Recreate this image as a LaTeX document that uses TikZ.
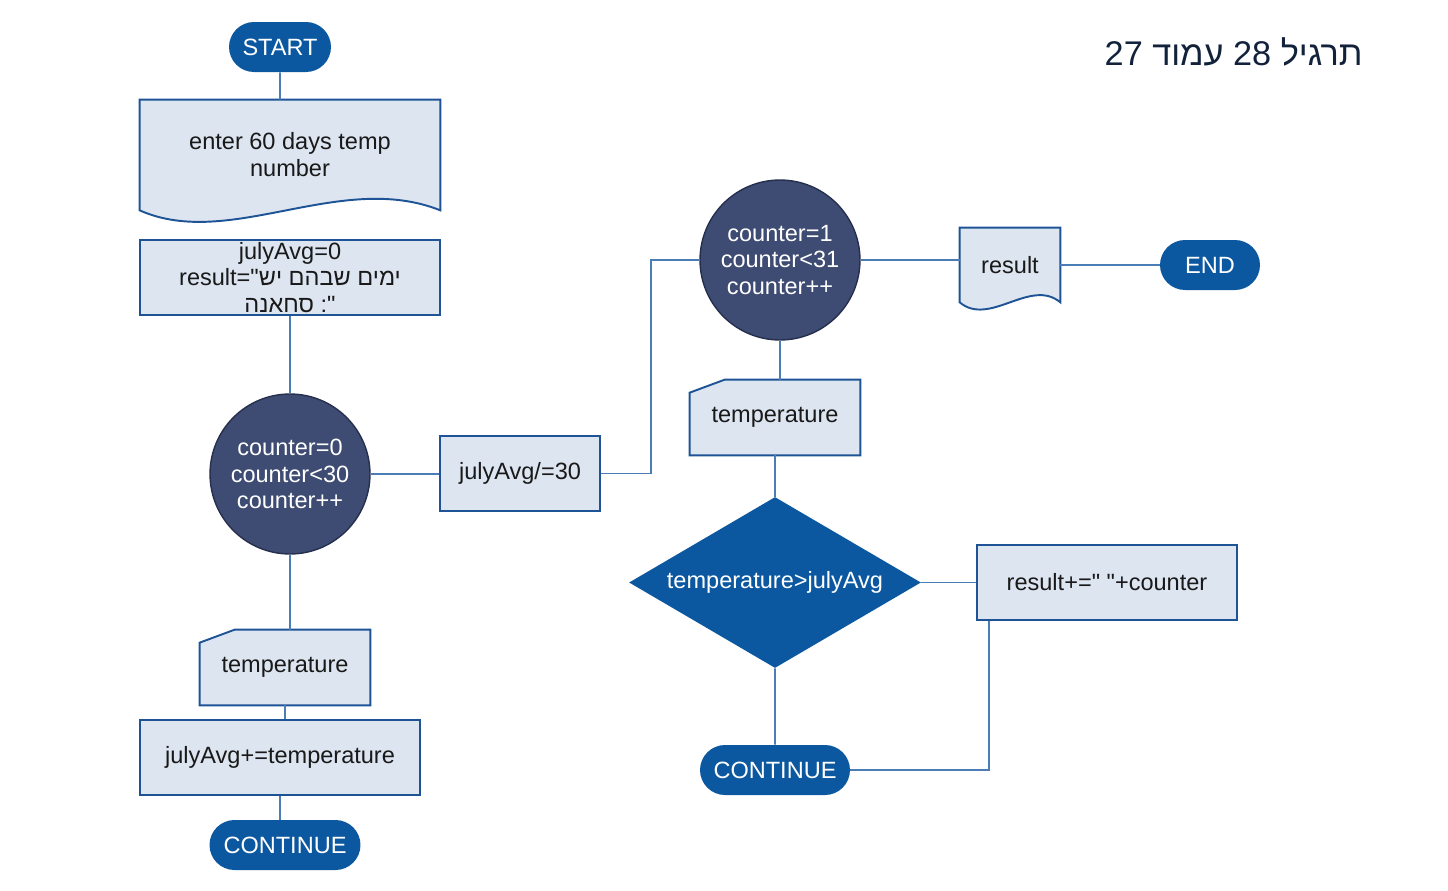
\documentclass[tikz,border=0pt]{standalone}
\usepackage{fontspec}
\setmainfont{Liberation Sans}[Ligatures=TeXOff]
\newfontfamily\hebfont[Script=Hebrew,Ligatures=TeXOff]{Liberation Sans}
\TeXXeTstate=1
\usepackage{xcolor}
\usetikzlibrary{shapes.geometric,shapes.misc}
\definecolor{boxfill}{RGB}{221,229,241}
\definecolor{boxline}{RGB}{30,84,150}
\definecolor{pillblue}{RGB}{12,88,160}
\definecolor{loopfill}{RGB}{62,75,114}
\definecolor{loopline}{RGB}{38,48,78}
\definecolor{wire}{RGB}{74,124,181}
\definecolor{titlecol}{RGB}{18,34,58}
\tikzstyle{labeltext} = [font=\fontsize{13.4}{15.3}\selectfont, text=black!90, align=center]
\tikzstyle{process} = [labeltext, draw=boxline, fill=boxfill, line width=1.1pt,
    rectangle, minimum height=1.5cm, inner sep=0pt]
\tikzstyle{shapeonly} = [labeltext, rectangle, inner sep=0pt]
\tikzstyle{shapeline} = [draw=boxline, fill=boxfill, line width=1.1pt]
\tikzstyle{terminal} = [labeltext, rounded rectangle, fill=pillblue, text=white,
    minimum height=1cm, inner sep=0pt]
\tikzstyle{loopnode} = [labeltext, circle, draw=loopline, fill=loopfill, text=white,
    line width=0.8pt, minimum size=3.2cm, inner sep=0pt]
\tikzstyle{decision} = [labeltext, diamond, fill=pillblue, text=white, aspect=1.7,
    minimum width=5.84cm, minimum height=3.42cm, inner sep=0pt]
\tikzstyle{wire} = [draw=wire, line width=1.1pt]

\begin{document}
\begin{tikzpicture}[x=0.02cm, y=-0.02cm]
\useasboundingbox (0,0) rectangle (1448,890);

% left column
\node[terminal, minimum width=2.04cm] (start) at (280,47) {START};
\node[shapeonly, minimum width=6cm, minimum height=2.2cm] (input) at (290,155) {};
\filldraw[shapeline] (input.south west) -- (input.north west) -- (input.north east)
    -- (input.south east) .. controls +(-100,-40) and +(90,40) .. (input.south west) -- cycle;
\node[labeltext] at (input) {enter 60 days temp\\number};
\node[process, minimum width=6cm] (init) at (290,277.5)
    {julyAvg=0\\result="{\hebfont\beginR ימים שבהם יש\endR}\\{\hebfont\beginR סחאנה\endR} :"};
\node[loopnode] (loopA) at (290,474) {counter=0\\counter<30\\counter++};
\node[process, minimum width=3.2cm] (divide) at (520,473.5) {julyAvg/=30};
\node[shapeonly, minimum width=3.4cm, minimum height=1.5cm] (readL) at (285,667.5) {};
\filldraw[shapeline] (readL.south west) -- ([yshift=-0.26cm]readL.north west)
    -- ([xshift=0.7cm]readL.north west) -- (readL.north east) -- (readL.south east) -- cycle;
\node[labeltext] at (readL) {temperature};
\node[process, minimum width=5.6cm] (sumup) at (280,757.5) {julyAvg+=temperature};
\node[terminal, minimum width=3.02cm] (contL) at (285,845) {CONTINUE};

% right column
\node[loopnode] (loopB) at (780,260) {counter=1\\counter<31\\counter++};
\node[shapeonly, minimum width=2cm, minimum height=1.48cm] (report) at (1010,265) {};
\filldraw[shapeline] (report.south west) -- (report.north west) -- (report.north east)
    -- (report.south east) .. controls +(-30,-25) and +(30,25) .. (report.south west) -- cycle;
\node[labeltext] at (report) {result};
\node[terminal, minimum width=2cm] (stop) at (1210,265) {END};
\node[shapeonly, minimum width=3.4cm, minimum height=1.5cm] (readR) at (775,417.5) {};
\filldraw[shapeline] (readR.south west) -- ([yshift=-0.26cm]readR.north west)
    -- ([xshift=0.7cm]readR.north west) -- (readR.north east) -- (readR.south east) -- cycle;
\node[labeltext] at (readR) {temperature};
\node[decision] (check) at (775,582.5) {temperature>julyAvg};
\node[process, minimum width=5.2cm] (append) at (1107,582.5) {result+=" "+counter};
\node[terminal, minimum width=3cm] (contR) at (775,770) {CONTINUE};

\node[font=\fontsize{19.5}{22}\selectfont, text=titlecol, anchor=east, inner sep=0pt]
    (title) at (1363,52)
    {\hebfont\beginR תרגיל \beginL 28\endL{} עמוד \beginL 27\endL\endR};

% connectors
\draw[wire] (start) -- (start |- input.north);
\draw[wire] (init) -- (loopA);
\draw[wire] (loopA) -- (loopA |- readL.north);
\draw[wire] (readL.south) -- (readL.south |- sumup.north);
\draw[wire] (sumup) -- (sumup |- contL.north);
\draw[wire] (loopA) -- (loopA -| divide.west);
\draw[wire] (divide.east) -- ++(50,0) |- (loopB.west);
\draw[wire] (loopB.east) -- (loopB.east -| report.west);
\draw[wire] (report) -- (stop);
\draw[wire] (loopB) -- (loopB |- readR.north);
\draw[wire] (readR) -- (check);
\draw[wire] (check) -- (append);
\draw[wire] (check) -- (contR);
\draw[wire] ([xshift=0.26cm]append.south west) |- (contR.east);
\end{tikzpicture}
\end{document}
